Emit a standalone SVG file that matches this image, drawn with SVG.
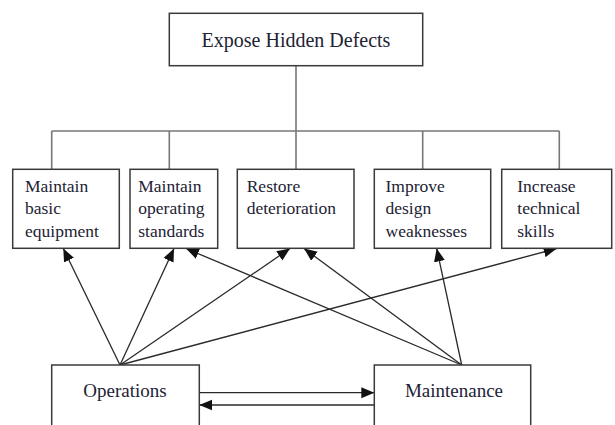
<svg xmlns="http://www.w3.org/2000/svg" width="615" height="425" viewBox="0 0 615 425">
<style>
  .box { fill: #ffffff; stroke: #3a3a3a; stroke-width: 1.5; }
  .bus { fill: none; stroke: #777777; stroke-width: 1.6; }
  .arr { fill: none; stroke: #2a2a2a; stroke-width: 1.3; marker-end: url(#ah); }
  .t { font-family: "Liberation Serif", "Times New Roman", serif; fill: #222233; }
  .t17 { font-size: 17.5px; }
  .t19 { font-size: 19px; }
</style>
<defs>
  <marker id="ah" markerUnits="userSpaceOnUse" markerWidth="14" markerHeight="12" refX="13" refY="5.5" orient="auto" viewBox="0 0 14 11">
    <path d="M0,0 L13,5.5 L0,11 z" fill="#111111"/>
  </marker>
</defs>
<rect width="615" height="425" fill="#ffffff"/>

<g id="connectors">
  <path class="bus" d="M296,65.7 V131 M51.7,131 H559.3 M51.7,131 V169.3 M169.3,131 V169.3 M296,131 V169.3 M422.7,131 V169.3 M559.3,131 V169.3"/>
  <line class="arr" x1="120" y1="365" x2="63.3" y2="248.5"/>
  <line class="arr" x1="120" y1="365" x2="174" y2="248.5"/>
  <line class="arr" x1="120" y1="365" x2="290" y2="248.5"/>
  <line class="arr" x1="120" y1="365" x2="556.7" y2="248.5"/>
  <line class="arr" x1="461.7" y1="365" x2="186" y2="248.5"/>
  <line class="arr" x1="461.7" y1="365" x2="304" y2="248.5"/>
  <line class="arr" x1="461.7" y1="365" x2="436.7" y2="248.5"/>
  <line class="arr" x1="199.3" y1="392.7" x2="374.3" y2="392.7"/>
  <line class="arr" x1="374.3" y1="405" x2="199.3" y2="405"/>
</g>

<g id="expose">
  <rect class="box" x="169.3" y="13.3" width="253.4" height="52.4"/>
  <text class="t" x="296" y="46.5" font-size="20" text-anchor="middle">Expose Hidden Defects</text>
</g>

<g id="basic">
  <rect class="box" x="12.7" y="169.3" width="106.6" height="79"/>
  <text class="t t17" x="25" y="191.7">Maintain</text>
  <text class="t t17" x="25" y="214">basic</text>
  <text class="t t17" x="25" y="236.7">equipment</text>
</g>

<g id="standards">
  <rect class="box" x="130" y="169.3" width="87.7" height="79"/>
  <text class="t t17" x="138.3" y="191.7">Maintain</text>
  <text class="t t17" x="138.3" y="214">operating</text>
  <text class="t t17" x="138.3" y="236.7">standards</text>
</g>

<g id="restore">
  <rect class="box" x="237.3" y="169.3" width="116.7" height="79"/>
  <text class="t t17" x="246.7" y="191.7">Restore</text>
  <text class="t t17" x="246.7" y="214">deterioration</text>
</g>

<g id="improve">
  <rect class="box" x="374.3" y="169.3" width="116.4" height="79"/>
  <text class="t t17" x="385.5" y="191.7">Improve</text>
  <text class="t t17" x="385.5" y="214">design</text>
  <text class="t t17" x="385.5" y="236.7">weaknesses</text>
</g>

<g id="skills">
  <rect class="box" x="501.7" y="169.3" width="110" height="79"/>
  <text class="t t17" x="517.3" y="191.7">Increase</text>
  <text class="t t17" x="517.3" y="214">technical</text>
  <text class="t t17" x="517.3" y="236.7">skills</text>
</g>

<g id="operations">
  <rect class="box" x="51.7" y="365" width="147.6" height="70"/>
  <text class="t t19" x="125" y="396.7" text-anchor="middle">Operations</text>
</g>

<g id="maintenance">
  <rect class="box" x="374.3" y="365" width="156.4" height="70"/>
  <text class="t t19" x="454" y="396.7" text-anchor="middle">Maintenance</text>
</g>
</svg>
